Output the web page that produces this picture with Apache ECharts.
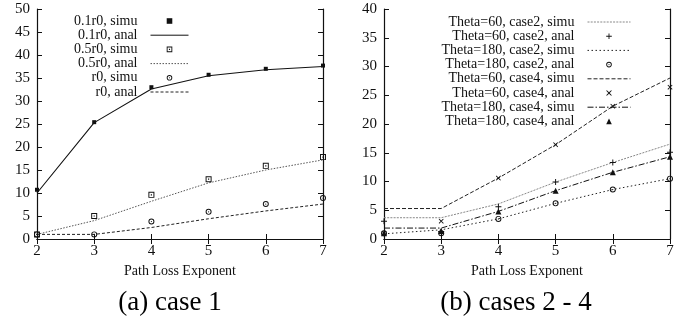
<!DOCTYPE html>
<html>
<head>
<meta charset="utf-8">
<script src="https://cdn.jsdelivr.net/npm/echarts@6/dist/echarts.min.js"></script>
<style>
  html, body { margin: 0; padding: 0; background: #fff; }
  #chart { width: 696px; height: 319px; }
</style>
</head>
<body>
<div id="chart"></div>
<script>
// x values shared by both panels
const pathLoss = [2, 3, 4, 5, 6, 7];

// (a) case 1
const r01Simu = [10.7, 25.4, 33.0, 35.7, 37.0, 37.7];
const r01Anal = [10.0, 25.3, 32.6, 35.5, 36.8, 37.5];
const r05Simu = [1.0, 5.0, 9.6, 13.0, 15.9, 17.8];
const r05Anal = [1.0, 4.0, 8.2, 12.2, 15.0, 17.2];
const r0Simu = [1.0, 1.0, 3.8, 5.9, 7.6, 8.9];
const r0Anal = [1.0, 1.0, 2.5, 4.4, 6.1, 7.6];

// (b) cases 2 - 4
const t60c2Simu = [3.7, 3.7, 6.1, 9.9, 13.3, 16.5];
const t60c2Anal = [3.1, 1.3, 5.6, 9.9, 13.3, 15.1];
const t180c2Simu = [0.9, 1.6, 3.5, 6.2, 8.6, 10.5];
const t180c2Anal = [1.0, 1.0, 3.5, 6.2, 8.6, 10.5];
const t60c4Simu = [5.3, 5.3, 10.6, 16.4, 23.1, 28.0];
const t60c4Anal = [1.0, 3.1, 10.6, 16.4, 23.1, 26.4];
const t180c4Simu = [1.9, 1.9, 4.8, 8.4, 11.6, 14.3];
const t180c4Anal = [1.0, 1.4, 4.8, 8.4, 11.6, 14.3];

const FONT = '"Liberation Serif", "DejaVu Serif", serif';

// marker shapes (gnuplot-like)
const SYM_BOXDOT = 'path://M0,0H10V10H0Z M1.6,1.6V8.4H8.4V1.6Z M4,4H6V6H4Z';
const SYM_CIRCDOT = 'path://M5,0A5,5 0 1,1 5,10A5,5 0 1,1 5,0Z M5,1.6A3.4,3.4 0 1,0 5,8.4A3.4,3.4 0 1,0 5,1.6Z M5,4A1,1 0 1,1 5,6A1,1 0 1,1 5,4Z';
const SYM_CROSS = 'path://M0,1.2L1.2,0L5,3.8L8.8,0L10,1.2L6.2,5L10,8.8L8.8,10L5,6.2L1.2,10L0,8.8L3.8,5Z';
const SYM_PLUS = 'path://M4.2,0H5.8V4.2H10V5.8H5.8V10H4.2V5.8H0V4.2H4.2Z';

const pts = (vals) => pathLoss.map((x, i) => [x, vals[i]]);

function lineSeries(name, vals, grid, color, type, width) {
  return {
    name, type: 'line', data: pts(vals),
    xAxisIndex: grid * 2, yAxisIndex: grid * 2,
    symbol: 'none',
    lineStyle: { color, width: width || 1, type },
    itemStyle: { color, opacity: 0 },   // no symbol in legend
    z: 2,
  };
}

function markSeries(name, vals, grid, symbol, size) {
  return {
    name, type: 'line', data: pts(vals),
    xAxisIndex: grid * 2, yAxisIndex: grid * 2,
    symbol, symbolSize: size || 5, showSymbol: true,
    lineStyle: { opacity: 0, width: 0 },
    itemStyle: { color: '#111' },
    z: 3,
  };
}

function xAxes(grid) {
  const base = {
    type: 'value', min: 2, max: 7, interval: 1, gridIndex: grid,
    axisLine: { lineStyle: { color: '#111', width: 1.2 } },
    axisTick: { inside: true, length: 5, lineStyle: { color: '#111' } },
    splitLine: { show: false },
  };
  return [
    Object.assign({}, base, {
      position: 'bottom',
      axisLabel: { color: '#111', fontFamily: FONT, fontSize: 15, margin: 5 },
      name: 'Path Loss Exponent', nameLocation: 'middle', nameGap: 22,
      nameTextStyle: { color: '#111', fontFamily: FONT, fontSize: 14 },
    }),
    Object.assign({}, base, { position: 'top', axisLabel: { show: false } }),
  ];
}

function yAxes(grid, max) {
  const base = {
    type: 'value', min: 0, max, interval: 5, gridIndex: grid,
    axisLine: { show: true, lineStyle: { color: '#111', width: 1.2 } },
    axisTick: { show: true, inside: true, length: 5, lineStyle: { color: '#111' } },
    splitLine: { show: false },
  };
  return [
    Object.assign({}, base, {
      position: 'left',
      axisLabel: { color: '#111', fontFamily: FONT, fontSize: 15, margin: 7 },
    }),
    Object.assign({}, base, { position: 'right', axisLabel: { show: false } }),
  ];
}

function legend(names, right, top, iconW) {
  return {
    data: names,
    orient: 'vertical', align: 'right',
    right, top,
    itemWidth: iconW, itemHeight: 7, itemGap: 0.2,
    selectedMode: false,
    lineStyle: { width: 1 },
    textStyle: {
      color: '#111', fontFamily: FONT, fontSize: 14, lineHeight: 14,
      padding: [0, 8, 0, 0],
    },
  };
}

function caption(text, x) {
  return {
    type: 'text', x, y: 303,
    style: {
      text, fontFamily: FONT, fontSize: 27, fill: '#000',
      align: 'center', verticalAlign: 'middle',
    },
  };
}

const leftNames = ['0.1r0, simu', '0.1r0, anal', '0.5r0, simu', '0.5r0, anal', 'r0, simu', 'r0, anal'];
const rightNames = [
  'Theta=60, case2, simu', 'Theta=60, case2, anal',
  'Theta=180, case2, simu', 'Theta=180, case2, anal',
  'Theta=60, case4, simu', 'Theta=60, case4, anal',
  'Theta=180, case4, simu', 'Theta=180, case4, anal',
];

const chart = echarts.init(document.getElementById('chart'), null, { renderer: 'canvas' });

chart.setOption({
  animation: false,
  backgroundColor: '#fff',
  grid: [
    { left: 37, right: 373, top: 9, bottom: 80 },
    { left: 384, right: 26, top: 9, bottom: 80 },
  ],
  xAxis: xAxes(0).concat(xAxes(1)),
  yAxis: yAxes(0, 50).concat(yAxes(1, 40)),
  legend: [
    legend(leftNames, 502, 9, 38),
    legend(rightNames, 60, 10, 43),
  ],
  graphic: [
    caption('(a) case 1', 170),
    caption('(b) cases 2 - 4', 516),
  ],
  series: [
    markSeries('0.1r0, simu', r01Simu, 0, 'rect', 4),
    lineSeries('0.1r0, anal', r01Anal, 0, '#111', 'solid', 1.1),
    markSeries('0.5r0, simu', r05Simu, 0, SYM_BOXDOT, 6),
    lineSeries('0.5r0, anal', r05Anal, 0, '#555', [1.5, 1.5], 1),
    markSeries('r0, simu', r0Simu, 0, SYM_CIRCDOT, 6),
    lineSeries('r0, anal', r0Anal, 0, '#222', [3, 2], 1),

    lineSeries('Theta=60, case2, simu', t60c2Simu, 1, '#888', [2, 1.2], 1),
    markSeries('Theta=60, case2, anal', t60c2Anal, 1, SYM_PLUS, 6),
    lineSeries('Theta=180, case2, simu', t180c2Simu, 1, '#222', [1.5, 2.5], 1),
    markSeries('Theta=180, case2, anal', t180c2Anal, 1, SYM_CIRCDOT, 6),
    lineSeries('Theta=60, case4, simu', t60c4Simu, 1, '#222', [4, 2], 1),
    markSeries('Theta=60, case4, anal', t60c4Anal, 1, SYM_CROSS, 5),
    lineSeries('Theta=180, case4, simu', t180c4Simu, 1, '#111', [6, 2, 1.5, 2], 1),
    markSeries('Theta=180, case4, anal', t180c4Anal, 1, 'triangle', 6),
  ],
});
</script>
</body>
</html>
